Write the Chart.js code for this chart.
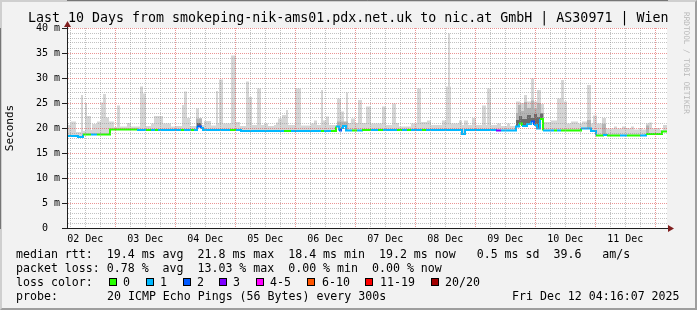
<!DOCTYPE html>
<html>
<head>
<meta charset="utf-8">
<title>smokeping</title>
<script src="https://cdn.jsdelivr.net/npm/chart.js@4.4.1/dist/chart.umd.min.js"></script>
<style>
body { margin: 0; background: #fff; }
#wrap { position: relative; width: 697px; height: 310px; background: #f2f2f2; overflow: hidden; font-family: "DejaVu Sans Mono", monospace; color: #000; }
#frame { position: absolute; left: 0; top: 0; width: 697px; height: 310px; box-sizing: border-box; border: 2px solid; border-color: #cfcfcf #9e9e9e #9e9e9e #cfcfcf; }
#chart { position: absolute; left: 0; top: 0; }
.t { position: absolute; white-space: pre; }
#title { left: 28px; top: 10px; font-size: 13.3px; line-height: 16px; }
.leg { font-size: 11.6px; line-height: 14px; }
.box { position: absolute; width: 6px; height: 6px; border: 1px solid #000; top: 278px; }
#wm { left: 681px; top: 12px; font-size: 7.7px; line-height: 10px; writing-mode: vertical-rl; color: #b8b8b8; }
</style>
</head>
<body>
<div id="wrap">
  <div id="frame"></div>
  <canvas id="chart" width="697" height="310"></canvas>
  <div class="t" id="title">Last 10 Days from smokeping-nik-ams01.pdx.net.uk to nic.at GmbH | AS30971 | Wien</div>
  <div class="t" id="wm">RRDTOOL / TOBI OETIKER</div>
  <div class="t leg" style="left:16px;top:247px">median rtt:  19.4 ms avg  21.8 ms max  18.4 ms min  19.2 ms now   0.5 ms sd  39.6   am/s</div>
  <div class="t leg" style="left:16px;top:261px">packet loss: 0.78 %  avg  13.03 % max  0.00 % min  0.00 % now</div>
  <div class="t leg" style="left:16px;top:275px">loss color:</div>
  <div class="t leg" style="left:16px;top:289px">probe:</div>
  <div class="t leg" style="left:107px;top:289px">20 ICMP Echo Pings (56 Bytes) every 300s</div>
  <div class="t leg" style="left:512px;top:289px">Fri Dec 12 04:16:07 2025</div>
</div>
<script>
// time axis in hours since 02 Dec 00:00
var tStart = 4.7, tEnd = 244.7;
var dayNoons = [12, 36, 60, 84, 108, 132, 156, 180, 204, 228];
var dayLabels = ['02 Dec','03 Dec','04 Dec','05 Dec','06 Dec','07 Dec','08 Dec','09 Dec','10 Dec','11 Dec'];
var yLabels = {0:'0  ', 5:'5 m', 10:'10 m', 15:'15 m', 20:'20 m', 25:'25 m', 30:'30 m', 35:'35 m', 40:'40 m'};

var lossLabels = ['0','1','2','3','4-5','6-10','11-19','20/20'];
var lossColors = ['#26ff00','#00b8ff','#0059ff','#7e00ff','#ff00ff','#ff5500','#ff0000','#a10000'];

// median rtt (ms), stepped, with loss class per step
var medHours = [4.7, 9.1, 11.1, 14.3, 16.7, 21.9, 32.7, 36.3, 38.3, 39.9, 41.1, 50.3, 51.5, 54.3, 55.5, 56.7, 58.3, 59.1,
  69.9, 72.3, 74.3, 91.5, 94.3, 106.3, 107.5, 110.3, 112.3, 113.5, 114.3, 115.1, 116.3, 118.7, 120.7, 122.7, 126.3,
  129.1, 131.1, 136.7, 138.7, 140.7, 142.3, 146.7, 148.3, 162.7, 163.9, 176.3, 178.3, 184.3, 185.5, 186.7, 188.7,
  190.3, 191.5, 192.7, 193.9, 195.1, 199.5, 200.7, 202.3, 210.3, 214.3, 216.3, 219.1, 220.7, 225.9, 228.7, 233.9,
  236.3, 242.7, 244.7];
var medMs = [18.4, 18.2, 18.7, 18.7, 18.7, 19.7, 19.6, 19.6, 19.6, 19.6, 19.6, 19.6, 19.6, 19.6, 19.6, 20.3, 20.0, 19.6,
  19.6, 19.6, 19.4, 19.4, 19.4, 19.4, 19.4, 19.4, 20.3, 19.5, 20.0, 20.4, 19.5, 19.5, 19.5, 19.6, 19.6,
  19.6, 19.6, 19.6, 19.6, 19.6, 19.6, 19.6, 19.6, 18.8, 19.6, 19.5, 19.5, 20.3, 20.9, 20.4, 20.8,
  21.3, 20.6, 19.9, 21.8, 19.5, 19.5, 19.5, 19.5, 19.9, 19.4, 18.5, 18.6, 18.5, 18.5, 18.5, 18.5,
  18.8, 19.3, 19.3];
var medLoss = [1, 1, 0, 1, 0, 0, 1, 0, 1, 0, 1, 0, 1, 0, 1, 2, 1, 1,
  0, 1, 1, 0, 1, 0, 1, 0, 1, 2, 1, 1, 1, 0, 1, 0, 1,
  0, 1, 0, 1, 0, 1, 0, 1, 1, 1, 3, 1, 1, 0, 1, 1,
  2, 1, 1, 0, 1, 0, 1, 0, 1, 1, 0, 1, 0, 1, 0, 1,
  0, 0, 0];

// light smoke top (ms), stepped
var smokeHours = [4.7, 5.1, 6.3, 8.3, 10.3, 11.1, 11.9, 12.7, 14.3, 14.7, 16.7, 18.3, 19.1, 20.3, 21.5, 23.5, 24.7, 25.9,
  28.7, 30.3, 33.9, 35.1, 36.3, 38.3, 39.5, 43.1, 46.3, 48.3, 50.7, 51.5, 52.7, 53.9, 56.3, 57.5, 58.7, 59.5, 62.3,
  64.3, 65.1, 65.5, 67.1, 70.3, 72.3, 73.9, 76.3, 77.5, 78.7, 80.7, 82.3, 83.5, 85.1, 87.5, 88.3, 89.1, 90.7, 92.3,
  93.1, 95.9, 98.3, 102.3, 103.5, 104.7, 106.3, 107.1, 108.3, 109.5, 112.7, 114.3, 115.5, 116.3, 117.1, 118.3, 119.9,
  121.1, 122.7, 124.3, 126.3, 130.7, 132.3, 134.7, 136.3, 137.5, 142.3, 144.7, 146.3, 148.7, 150.3, 154.7, 156.3,
  157.1, 157.9, 158.3, 161.5, 162.7, 163.5, 165.1, 166.7, 168.3, 170.7, 172.3, 172.7, 174.3, 176.7, 178.3, 180.7,
  181.9, 184.3, 185.9, 187.5, 188.7, 190.3, 191.5, 192.7, 194.3, 195.5, 198.3, 200.7, 202.3, 203.5, 204.7, 206.3,
  209.1, 210.7, 212.7, 214.3, 215.1, 216.7, 218.7, 220.3, 223.5, 224.7, 226.7, 228.3, 229.5, 230.3, 231.5, 233.5,
  234.7, 236.3, 237.5, 238.7, 240.7, 241.9, 243.1, 244.7];
var smokeTop = [19.0, 20.6, 21.3, 19.2, 26.6, 19.4, 25.0, 22.4, 19.6, 20.8, 21.3, 25.1, 26.8, 22.1, 21.3, 20.2, 24.5, 20.3,
  21.0, 20.3, 28.3, 26.9, 20.4, 20.9, 22.4, 20.9, 20.3, 20.4, 24.6, 27.3, 22.0, 20.4, 23.9, 22.0, 20.6, 21.4, 20.5,
  27.4, 20.9, 29.7, 20.9, 34.5, 21.2, 20.4, 29.3, 26.2, 20.6, 27.9, 20.6, 20.9, 20.4, 20.6, 21.1, 21.9, 22.6, 23.6,
  20.6, 27.9, 20.5, 20.9, 21.5, 20.6, 27.6, 21.5, 22.3, 20.6, 25.9, 23.3, 21.0, 27.1, 21.0, 21.9, 21.0,
  25.6, 21.0, 24.3, 20.9, 24.3, 20.6, 24.9, 21.0, 20.3, 20.9, 27.9, 21.2, 21.5, 20.6, 21.5, 28.3,
  38.9, 28.3, 20.9, 21.5, 20.6, 21.5, 20.6, 22.0, 20.6, 24.5, 20.6, 27.9, 20.6, 20.9, 20.4, 20.9,
  20.4, 25.3, 25.0, 26.6, 25.3, 29.9, 25.3, 27.6, 24.8, 21.2, 21.5, 25.9, 29.6, 25.3, 20.9, 21.3,
  20.9, 21.3, 28.6, 20.9, 22.5, 20.9, 22.0, 19.9, 20.3, 19.9, 20.3, 20.0, 19.9, 20.3, 19.7, 20.0,
  19.7, 20.9, 21.1, 19.9, 20.0, 19.6, 20.6, 20.6];

// denser smoke layers (0 = none)
var midHours = [4.7, 56.3, 58.7, 112.7, 117.1, 184.3, 185.1, 186.3, 187.5, 188.7, 190.3, 191.5, 192.7, 194.3, 195.5,
  212.7, 214.3, 218.7, 220.3, 236.3, 237.5, 244.7];
var midTop   = [0, 21.9, 0, 21.3, 0, 23.0, 24.6, 23.4, 25.2, 24.0, 25.5, 23.8, 25.0, 23.0, 0,
  21.6, 0, 20.8, 0, 20.5, 0, 0];
var darkHours = [4.7, 56.7, 58.3, 184.3, 185.5, 186.7, 188.7, 190.3, 191.5, 192.7, 193.9, 195.1, 244.7];
var darkTop   = [0, 21.0, 0, 21.6, 22.4, 21.8, 22.6, 22.0, 22.8, 22.2, 22.9, 0, 0];

var FONT = 'DejaVu Sans Mono';
var MINOR = 'rgba(143,143,143,0.55)';
var MAJOR = 'rgba(222,79,79,0.6)';
var AXIS = '#1f1f1f';
var ARROW = '#801f1f';

function pts(xs, ys) {
    return xs.map(function(x, i) { return {x: x, y: ys[i]}; });
}

// legend boxes for the loss colours
var boxX = [109, 146, 183, 219, 256, 307, 365, 431];
var labX = [123, 160, 197, 233, 270, 322, 380, 445];
var wrap = document.getElementById('wrap');
lossLabels.forEach(function(lab, i) {
    var b = document.createElement('div');
    b.className = 'box';
    b.style.left = boxX[i] + 'px';
    b.style.background = lossColors[i];
    wrap.appendChild(b);
    var t = document.createElement('div');
    t.className = 't leg';
    t.style.left = labX[i] + 'px';
    t.style.top = '275px';
    t.textContent = lab;
    wrap.appendChild(t);
});

var xTicks = [];
for (var h = 6; h <= 240; h += 6) xTicks.push(h);
var yTicks = [];
for (var v = 0; v <= 40; v++) yTicks.push(v);

var framePlugin = {
    id: 'framePlugin',
    beforeDraw: function(chart) {
        var a = chart.chartArea, ctx = chart.ctx;
        ctx.save();
        ctx.fillStyle = '#fff';
        ctx.fillRect(a.left, a.top, a.right - a.left, a.bottom - a.top);
        ctx.restore();
    },
    afterDraw: function(chart) {
        var a = chart.chartArea, ctx = chart.ctx;
        var x0 = a.left + 0.5, y0 = a.bottom + 0.5;
        ctx.save();
        ctx.strokeStyle = AXIS;
        ctx.lineWidth = 1;
        ctx.beginPath();
        ctx.moveTo(x0, a.bottom);
        ctx.lineTo(x0, a.top - 3);
        ctx.moveTo(a.left, y0);
        ctx.lineTo(a.right + 3, y0);
        ctx.stroke();
        ctx.fillStyle = ARROW;
        ctx.beginPath();
        ctx.moveTo(x0, a.top - 7);
        ctx.lineTo(x0 - 3.5, a.top - 1);
        ctx.lineTo(x0 + 3.5, a.top - 1);
        ctx.closePath();
        ctx.fill();
        ctx.beginPath();
        ctx.moveTo(a.right + 7, y0);
        ctx.lineTo(a.right + 1, y0 - 3.5);
        ctx.lineTo(a.right + 1, y0 + 3.5);
        ctx.closePath();
        ctx.fill();
        ctx.restore();
    }
};

Chart.defaults.font.family = FONT;
Chart.defaults.color = '#000';

var ctx = document.getElementById('chart').getContext('2d');
window.myChart = new Chart(ctx, {
    type: 'line',
    data: {
        datasets: [
            {
                label: 'median rtt',
                data: pts(medHours, medMs),
                stepped: true,
                borderWidth: 2,
                pointRadius: 0,
                fill: false,
                borderColor: lossColors[1],
                segment: {
                    borderColor: function(c) { return lossColors[medLoss[c.p0DataIndex]]; }
                }
            },
            {
                label: 'dark smoke',
                data: pts(darkHours, darkTop),
                stepped: true,
                borderWidth: 0,
                pointRadius: 0,
                backgroundColor: '#6a6a6a',
                fill: {target: 0, above: '#6a6a6a', below: 'rgba(0,0,0,0)'}
            },
            {
                label: 'mid smoke',
                data: pts(midHours, midTop),
                stepped: true,
                borderWidth: 0,
                pointRadius: 0,
                backgroundColor: '#b4b4b4',
                fill: {target: 0, above: '#b4b4b4', below: 'rgba(0,0,0,0)'}
            },
            {
                label: 'smoke',
                data: pts(smokeHours, smokeTop),
                stepped: true,
                borderWidth: 0,
                pointRadius: 0,
                backgroundColor: '#d6d6d6',
                fill: {target: 0, above: '#d6d6d6', below: 'rgba(0,0,0,0)'}
            }
        ]
    },
    options: {
        responsive: false,
        animation: false,
        events: [],
        layout: {padding: {left: 0, right: 30, top: 28, bottom: 62}},
        plugins: {
            legend: {display: false},
            tooltip: {enabled: false}
        },
        scales: {
            x: {
                type: 'linear',
                min: tStart,
                max: tEnd,
                bounds: 'data',
                offset: false,
                afterBuildTicks: function(s) {
                    s.ticks = xTicks.map(function(v) { return {value: v}; });
                },
                afterFit: function(s) { s.height = 20; },
                ticks: {
                    autoSkip: false,
                    maxRotation: 0,
                    padding: 5,
                    font: {family: FONT, size: 10},
                    color: '#000',
                    callback: function(v) {
                        var i = dayNoons.indexOf(v);
                        return i >= 0 ? dayLabels[i] : '';
                    }
                },
                grid: {
                    z: 1,
                    offset: false,
                    drawTicks: false,
                    lineWidth: 1,
                    color: function(c) {
                        return c.tick && c.tick.value % 24 === 0 ? MAJOR : MINOR;
                    }
                },
                border: {display: true, color: AXIS, dash: [1, 1]}
            },
            y: {
                type: 'linear',
                min: 0,
                max: 40,
                afterBuildTicks: function(s) {
                    s.ticks = yTicks.map(function(v) { return {value: v}; });
                },
                afterFit: function(s) { s.width = 67; },
                ticks: {
                    autoSkip: false,
                    padding: 2,
                    font: {family: FONT, size: 10},
                    color: '#000',
                    callback: function(v) {
                        return yLabels[v] !== undefined ? yLabels[v] : '';
                    }
                },
                grid: {
                    z: 1,
                    lineWidth: 1,
                    tickLength: 5,
                    color: function(c) {
                        return c.tick && c.tick.value % 5 === 0 ? MAJOR : MINOR;
                    },
                    tickColor: function(c) {
                        return c.tick && c.tick.value % 5 === 0 ? AXIS : 'rgba(0,0,0,0)';
                    }
                },
                border: {display: true, color: AXIS, dash: [1, 1]},
                title: {
                    display: true,
                    text: 'Seconds',
                    color: '#000',
                    font: {family: FONT, size: 11},
                    padding: {top: 4, bottom: 0}
                }
            }
        }
    },
    plugins: [framePlugin]
});
</script>
</body>
</html>
